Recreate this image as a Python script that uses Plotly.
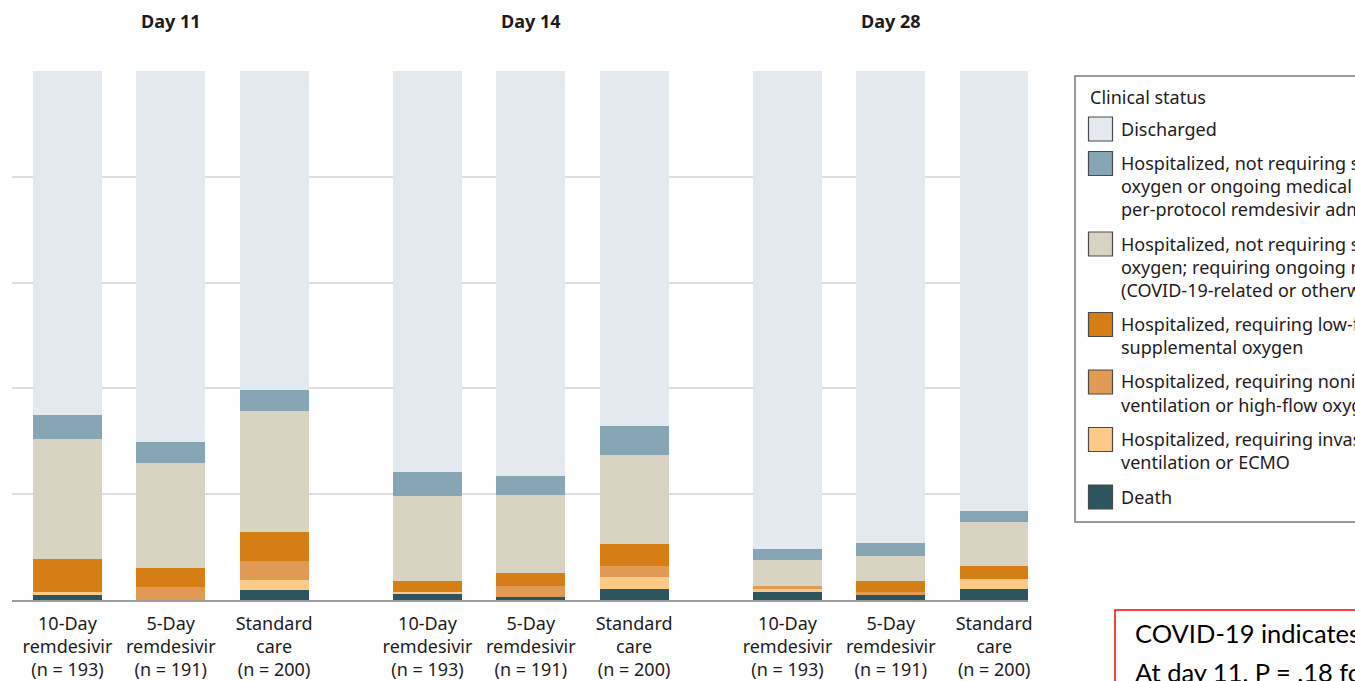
import plotly.graph_objects as go

# Follow-up days and treatment arms
days = ["Day 11", "Day 14", "Day 28"]
arms = [
    "10-Day<br>remdesivir<br>(n = 193)",
    "5-Day<br>remdesivir<br>(n = 191)",
    "Standard<br>care<br>(n = 200)",
]

# Percentage of patients per clinical status.
# Bar order: Day 11 (10-day, 5-day, standard), Day 14 (...), Day 28 (...)
death = [1.0, 0.0, 1.9, 1.1, 0.5, 2.0, 1.5, 1.0, 2.0]
invasive = [0.5, 0.0, 1.9, 0.5, 0.0, 2.4, 0.5, 0.0, 1.9]
noninvasive = [0.0, 2.5, 3.6, 0.0, 2.1, 2.1, 0.6, 0.5, 0.0]
low_flow = [6.2, 3.6, 5.5, 2.0, 2.5, 4.1, 0.0, 2.1, 2.6]
ongoing_care = [22.7, 19.8, 22.9, 16.0, 14.8, 16.9, 5.0, 4.8, 8.3]
no_care = [4.6, 4.0, 3.9, 4.6, 3.6, 5.4, 2.1, 2.4, 2.0]
discharged = [65.0, 70.1, 60.3, 75.8, 76.5, 67.1, 90.3, 89.2, 83.2]

# Stack order, bottom to top
series = [death, invasive, noninvasive, low_flow, ongoing_care, no_care, discharged]
status_lines = [
    ["Death"],
    ["Hospitalized, requiring invasive mechanical", "ventilation or ECMO"],
    ["Hospitalized, requiring noninvasive", "ventilation or high-flow oxygen"],
    ["Hospitalized, requiring low-flow", "supplemental oxygen"],
    ["Hospitalized, not requiring supplemental", "oxygen; requiring ongoing medical care",
     "(COVID-19-related or otherwise)"],
    ["Hospitalized, not requiring supplemental", "oxygen or ongoing medical care (other than",
     "per-protocol remdesivir administration)"],
    ["Discharged"],
]
status_colors = ["#2d5560", "#fcc986", "#e19a53", "#d57e16", "#d9d3c2", "#86a5b5", "#e4e9f0"]

TEXT = "#1f1b1c"
FONT = "Noto Sans"

# Figure geometry (pixels)
W, H = 1355, 681
L, R, T, B = 12, 327, 71, 81
PW, PH = W - L - R, H - T - B

PANEL_STEP = 3.485
xpos = [p * PANEL_STEP + i for p in range(len(days)) for i in range(len(arms))]
tick_text = [arms[i] for p in range(len(days)) for i in range(len(arms))]


def px(x):
    return (x - L) / PW


def py(y):
    return (H - B - y) / PH


fig = go.Figure()
for vals, lines, col in zip(series, status_lines, status_colors):
    fig.add_trace(go.Bar(
        x=xpos, y=vals, width=0.668, name=" ".join(lines),
        marker=dict(color=col, line=dict(width=0)),
        showlegend=False,
    ))

# Panel titles
annotations = []
for p, d in enumerate(days):
    annotations.append(dict(
        x=p * PANEL_STEP + 1, y=py(21), xref="x", yref="paper",
        text="<b>%s</b>" % d, showarrow=False,
        font=dict(family=FONT, size=18, color=TEXT),
        xanchor="center", yanchor="middle",
    ))

# Legend box drawn alongside the plot
shapes = [dict(type="rect", xref="paper", yref="paper",
               x0=px(1075), x1=px(1420), y0=py(76), y1=py(522),
               line=dict(color="#7a7a7a", width=1.5), fillcolor="rgba(0,0,0,0)")]
annotations.append(dict(x=px(1088), y=py(97), xref="paper", yref="paper",
                        text="Clinical status", showarrow=False, xanchor="left",
                        yanchor="middle", font=dict(family=FONT, size=18, color=TEXT)))
top = 117
LINE = 23.0
for lines, col in zip(reversed(status_lines), reversed(status_colors)):
    shapes.append(dict(type="rect", xref="paper", yref="paper",
                       x0=px(1088.5), x1=px(1112.5), y0=py(top), y1=py(top + 24),
                       line=dict(color="#4a4a4a", width=1.2), fillcolor=col))
    for k, ln in enumerate(lines):
        annotations.append(dict(x=px(1119), y=py(top + 11.5 + k * LINE), xref="paper",
                                yref="paper", text=ln, showarrow=False,
                                xanchor="left", yanchor="middle",
                                font=dict(family=FONT, size=18, color=TEXT)))
    top += len(lines) * LINE + 11.5

# Footnote box
shapes.append(dict(type="rect", xref="paper", yref="paper",
                   x0=px(1115), x1=px(1420), y0=py(610), y1=py(720),
                   line=dict(color="#ff0000", width=1.5), fillcolor="rgba(0,0,0,0)"))
notes = [
    "COVID-19 indicates coronavirus disease 2019; ECMO, extracorporeal membrane oxygenation.",
    "At day 11, P = .18 for 10-day remdesivir vs standard care.",
]
for k, ln in enumerate(notes):
    annotations.append(dict(x=px(1133), y=py(633 + k * 39), xref="paper", yref="paper",
                            text=ln, showarrow=False, xanchor="left", yanchor="middle",
                            font=dict(family="Lato", size=25.5, color="#000000")))

fig.update_layout(
    width=W, height=H,
    margin=dict(l=L, r=R, t=T, b=B, pad=0, autoexpand=False),
    barmode="stack",
    showlegend=False,
    plot_bgcolor="white", paper_bgcolor="white",
    shapes=shapes, annotations=annotations,
    font=dict(family=FONT, size=18, color=TEXT),
)
fig.update_xaxes(
    range=[-0.537, 9.298], tickmode="array", tickvals=xpos, ticktext=tick_text,
    showgrid=False, zeroline=False, showline=True, linecolor="#9c9c9c", linewidth=2,
    ticks="", ticklabelstandoff=6, automargin=False,
    tickfont=dict(family=FONT, size=18, color=TEXT),
)
fig.update_yaxes(
    range=[0, 100], tickvals=[20, 40, 60, 80, 100], showticklabels=False,
    showgrid=True, gridcolor="#dedede", gridwidth=1.5, zeroline=False, showline=False,
    automargin=False,
)

fig.write_html("out.html", config={"displayModeBar": False})
